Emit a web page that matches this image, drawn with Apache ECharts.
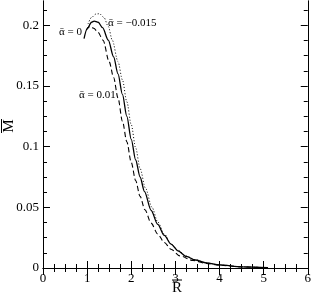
<!DOCTYPE html>
<html><head><meta charset="utf-8">
<script src="https://cdn.jsdelivr.net/npm/echarts@6/dist/echarts.min.js"></script>
<style>html,body{margin:0;padding:0;background:#fff}#c{width:314px;height:296px}</style>
</head><body><div id="c"></div>
<script>
// alpha = 0 (solid)
var rSolid = [0.93,1.0,1.1,1.16,1.25,1.35,1.48,1.6,1.7,1.8,1.9,2.0,2.1,2.2,2.3,2.45,2.6,2.75,2.9,3.06,3.25,3.45,3.7,4.0,4.5,5.1];
var mSolid = [0.189,0.197,0.2025,0.2035,0.2025,0.198,0.1877,0.174,0.160,0.143,0.125,0.106,0.089,0.075,0.063,0.0475,0.036,0.0268,0.0197,0.0141,0.0095,0.0066,0.0042,0.0025,0.001,0.0002];
// alpha = 0.01 (dashed)
var rDashed = [0.98,1.03,1.08,1.15,1.25,1.36,1.5,1.6,1.7,1.8,1.9,2.0,2.1,2.2,2.31,2.45,2.6,2.75,2.9,3.1,3.4,3.7,4.0,4.5,5.1];
var mDashed = [0.196,0.1985,0.199,0.1975,0.194,0.1877,0.170,0.157,0.140,0.121,0.104,0.087,0.072,0.059,0.048,0.037,0.028,0.021,0.0155,0.010,0.0062,0.0038,0.0023,0.0009,0.0002];
// alpha = -0.015 (dotted)
var rDotted = [1.02,1.1,1.2,1.28,1.38,1.48,1.57,1.7,1.8,1.9,2.0,2.1,2.2,2.32,2.47,2.6,2.75,2.9,3.06,3.25,3.45,3.7,4.0,4.5,5.1];
var mDotted = [0.201,0.2065,0.2093,0.2095,0.2065,0.199,0.1877,0.170,0.155,0.137,0.118,0.099,0.082,0.066,0.050,0.038,0.028,0.020,0.0145,0.0098,0.0067,0.0042,0.0025,0.001,0.0002];
var yMajor = [0,0.05,0.1,0.15,0.2];
var yMinor = [0.0125,0.025,0.0375,0.0625,0.075,0.0875,0.1125,0.125,0.1375,0.1625,0.175,0.1875,0.2125];
var labels = [
  {text:'\u1fb1 = 0', x:59, y:27},
  {text:'\u1fb1 = \u22120.015', x:108, y:18},
  {text:'\u1fb1 = 0.01', x:79, y:90}
];
function pairs(r,m){return r.map(function(v,i){return [v,m[i]];});}
var font = '"Liberation Serif","DejaVu Serif",serif';
var chart = echarts.init(document.getElementById('c'));
function yAx(pos, vals, len, lab){
  return {type:'value', min:0, max:0.22, position:pos, gridIndex:0,
    axisLine:{show:true, lineStyle:{color:'#000', width:1}},
    splitLine:{show:false},
    axisTick:{show:true, inside:true, length:len, customValues:vals, lineStyle:{color:'#000'}},
    axisLabel:{show:lab, customValues:vals, color:'#000', fontFamily:font, fontSize:13, margin:4,
      formatter:function(v){return String(v);}}
  };
}
function xAx(pos, lab){
  return {type:'value', min:0, max:6, interval:1, position:pos,
    axisLine:{show:true, lineStyle:{color:'#000', width:1}},
    splitLine:{show:false},
    axisTick:{show:true, inside:true, length:7, lineStyle:{color:'#000'}},
    minorTick:{show:true, splitNumber:4, length:4, lineStyle:{color:'#000'}},
    axisLabel:{show:lab, color:'#000', fontFamily:font, fontSize:13, margin:4}
  };
}
var lineCommon = {type:'line', smooth:0.3, smoothMonotone:'x', showSymbol:false};
chart.setOption({
  animation:false,
  grid:{left:43, right:2, top:1, bottom:28},
  xAxis:[xAx('bottom', true), xAx('top', false)],
  yAxis:[yAx('left', yMajor, 7, true), yAx('left', yMinor, 4, false), yAx('right', yMajor, 7, false), yAx('right', yMinor, 4, false)],
  series:[
    Object.assign({}, lineCommon, {data:pairs(rSolid,mSolid), lineStyle:{color:'#000', width:1.3, type:'solid'}}),
    Object.assign({}, lineCommon, {data:pairs(rDashed,mDashed), lineStyle:{color:'#000', width:1.1, type:[5,3]}}),
    Object.assign({}, lineCommon, {data:pairs(rDotted,mDotted), lineStyle:{color:'#000', width:1, type:[1,2]}})
  ],
  graphic: labels.map(function(l){
    return {type:'text', left:l.x, top:l.y, style:{text:l.text, fill:'#000', font:'11px '+font}};
  }).concat([
    {type:'text', left:172, top:281, style:{text:'R', fill:'#000', font:'15px '+font}},
    {type:'line', shape:{x1:172, y1:280, x2:182, y2:280}, style:{stroke:'#000', lineWidth:1}},
    {type:'text', x:2, y:126, rotation:Math.PI/2, style:{text:'M', fill:'#000', font:'15px '+font, align:'center', verticalAlign:'top'}},
    {type:'line', shape:{x1:1.5, y1:119, x2:1.5, y2:133}, style:{stroke:'#000', lineWidth:1}}
  ])
});
</script></body></html>
